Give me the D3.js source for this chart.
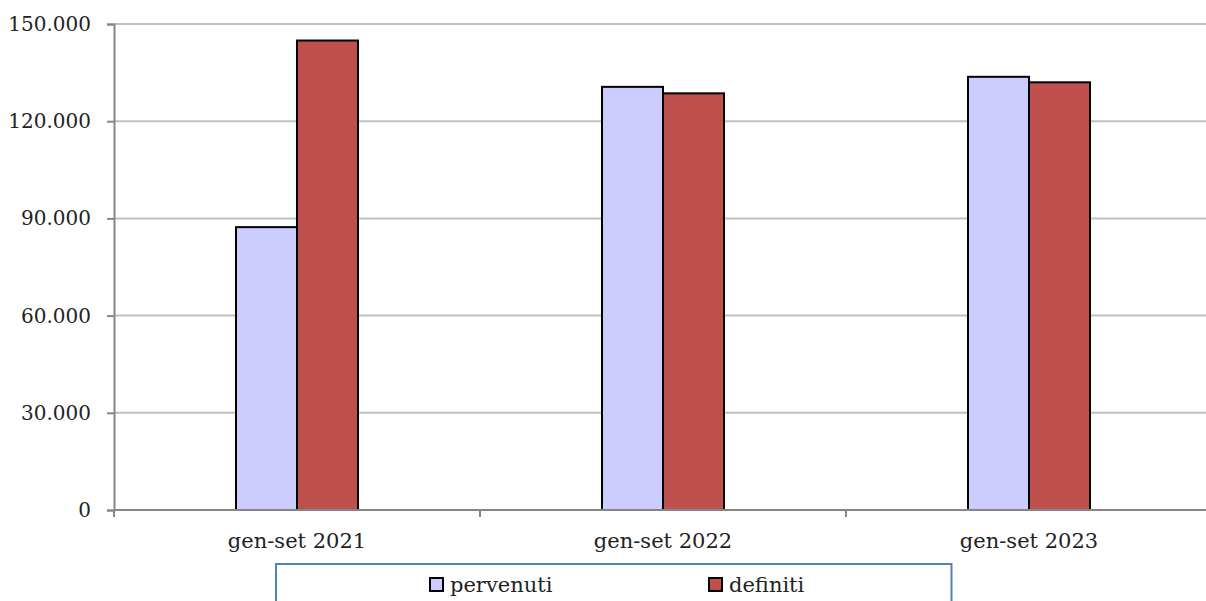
<!DOCTYPE html>
<html><head><meta charset="utf-8">
<script src="https://cdn.jsdelivr.net/npm/d3@7"></script>
<style>html,body{margin:0;padding:0;background:#fff;overflow:hidden}</style>
</head><body>
<svg id="c" width="1206" height="601"></svg>
<script>
const categories = ["gen-set 2021", "gen-set 2022", "gen-set 2023"];
const seriesNames = ["pervenuti", "definiti"];
const pervenuti = [87300, 130600, 133700];
const definiti = [144900, 128600, 132000];
const yTicks = [0, 30000, 60000, 90000, 120000, 150000];
const colors = ["#CCCCFF", "#C0504D"];

const svg = d3.select("#c");
const W = 1206;
const plotLeft = 114, plotTop = 24, plotBottom = 510;
const x = d3.scaleBand().domain(categories).range([plotLeft, plotLeft + 3 * 366]);
const y = d3.scaleLinear().domain([0, 150000]).range([plotBottom, plotTop]);
const font = "'DejaVu Serif', serif";
const fs = 21;

// gridlines
svg.append("g").selectAll("line").data(yTicks.filter(d => d > 0)).join("line")
  .attr("x1", plotLeft).attr("x2", W).attr("y1", d => y(d)).attr("y2", d => y(d))
  .attr("stroke", "#BFBFBF").attr("stroke-width", 2);

// y axis
const yAxis = svg.append("g").attr("transform", `translate(${plotLeft},0)`)
  .call(d3.axisLeft(y).tickValues(yTicks).tickSize(7).tickPadding(16)
    .tickFormat(d => d3.format(",")(d).replace(/,/g, ".")));
yAxis.select(".domain").attr("stroke", "#868686").attr("stroke-width", 2);
yAxis.selectAll(".tick line").attr("stroke", "#868686").attr("stroke-width", 2);
yAxis.selectAll("text").attr("font-family", font).attr("font-size", 20).attr("fill", "#222");

// bars
const sub = d3.scaleBand().domain(seriesNames).range([0, x.bandwidth()]).paddingInner(0).paddingOuter(2);
const data = [pervenuti, definiti];
data.forEach((vals, si) => {
  svg.append("g").selectAll("rect").data(vals).join("rect")
    .attr("x", (d, i) => x(categories[i]) + sub(seriesNames[si]))
    .attr("width", sub.bandwidth())
    .attr("y", d => y(d)).attr("height", d => plotBottom - y(d))
    .attr("fill", colors[si]).attr("stroke", "#000").attr("stroke-width", 2);
});

// x axis
svg.append("line").attr("x1", plotLeft).attr("x2", W).attr("y1", plotBottom).attr("y2", plotBottom)
  .attr("stroke", "#868686").attr("stroke-width", 2);
svg.append("g").selectAll("line").data(categories).join("line")
  .attr("x1", d => x(d)).attr("x2", d => x(d)).attr("y1", plotBottom).attr("y2", plotBottom + 7)
  .attr("stroke", "#868686").attr("stroke-width", 2);
svg.append("g").selectAll("text").data(categories).join("text")
  .attr("x", d => x(d) + x.bandwidth() / 2).attr("y", 548)
  .attr("text-anchor", "middle").attr("font-family", font).attr("font-size", fs)
  .attr("fill", "#222").text(d => d);

// legend
svg.append("rect").attr("x", 276).attr("y", 564).attr("width", 675.5).attr("height", 60)
  .attr("fill", "#fff").attr("stroke", "#4F81BD").attr("stroke-width", 2);
const legX = [430, 709];
seriesNames.forEach((s, i) => {
  svg.append("rect").attr("x", legX[i]).attr("y", 578).attr("width", 13).attr("height", 13)
    .attr("fill", colors[i]).attr("stroke", "#000").attr("stroke-width", 2);
  svg.append("text").attr("x", legX[i] + 20).attr("y", 592)
    .attr("font-family", font).attr("font-size", fs).attr("fill", "#222").text(s);
});
</script>
</body></html>
